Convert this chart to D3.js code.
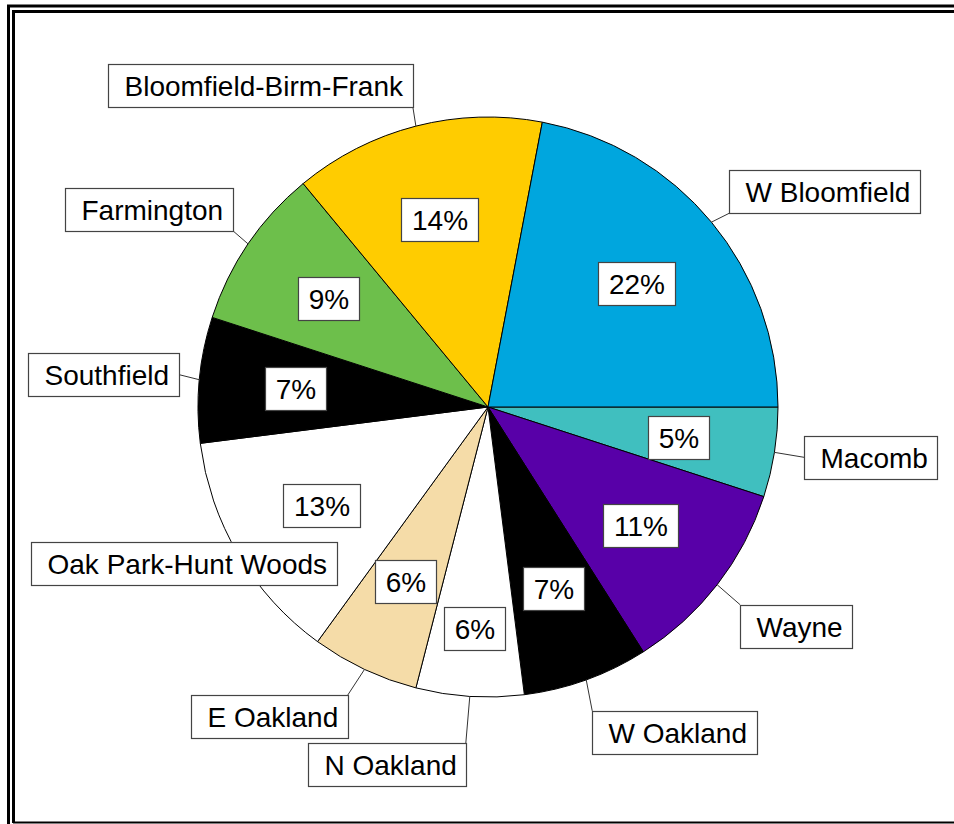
<!DOCTYPE html>
<html>
<head>
<meta charset="utf-8">
<script src="https://cdn.jsdelivr.net/npm/d3@7"></script>
<style>
  html, body { margin: 0; padding: 0; background: #fff; overflow: hidden; }
  svg { display: block; }
  text { font-family: "Liberation Sans", Arial, sans-serif; font-size: 28px; fill: #000; }
</style>
</head>
<body>
<div id="chart"></div>
<script>
// slices in drawing order, clockwise from 3 o'clock
const categories = ["Macomb", "Wayne", "W Oakland", "N Oakland", "E Oakland",
  "Oak Park-Hunt Woods", "Southfield", "Farmington", "Bloomfield-Birm-Frank", "W Bloomfield"];
const shares = [5, 11, 7, 6, 6, 13, 7, 9, 14, 22];
const pctLabels = ["5%", "11%", "7%", "6%", "6%", "13%", "7%", "9%", "14%", "22%"];
const sliceColors = ["#40BFBF", "#5800A8", "#000000", "#FFFFFF", "#F5DCA8",
  "#FFFFFF", "#000000", "#6DBF4B", "#FFCC00", "#00A6DE"];

// where each name box sits relative to its slice's edge point (anchor = box point the leader hits)
const nameLayout = [
  {anchor: "l", dx: 30, dy: 5},
  {anchor: "tl", dx: 23, dy: 20},
  {anchor: "tl", dx: 6, dy: 31},
  {anchor: "tr", dx: -4, dy: 47},
  {anchor: "tr", dx: -17, dy: 26},
  {anchor: "c", dx: -54, dy: 9},
  {anchor: "r", dx: -20, dy: -5},
  {anchor: "br", dx: -15, dy: -13},
  {anchor: "br", dx: -3, dy: -19},
  {anchor: "bl", dx: 18, dy: -9}
];
// percent boxes sit on 2/3 of the radius, N Oakland pushed out a bit
const pctRadiusShift = [0, 0, 0, 29, 0, 0, 0, 0, 0, 0];

const width = 954, height = 824;
const cx = 488, cy = 407, R = 290;
const boxH = 43;

const svg = d3.select("#chart").append("svg")
  .attr("width", width).attr("height", height);

// double frame, cut off at right edge
const frame = svg.append("g").attr("stroke", "#000");
frame.append("line").attr("x1", 8.5).attr("x2", 8.5).attr("y1", 5).attr("y2", height).attr("stroke-width", 3);
frame.append("line").attr("x1", 7).attr("x2", width).attr("y1", 6).attr("y2", 6).attr("stroke-width", 3);
frame.append("line").attr("x1", 13.5).attr("x2", 13.5).attr("y1", 10).attr("y2", 823).attr("stroke-width", 3);
frame.append("line").attr("x1", 12).attr("x2", width).attr("y1", 11.5).attr("y2", 11.5).attr("stroke-width", 3);
frame.append("line").attr("x1", 13).attr("x2", width).attr("y1", 822.5).attr("y2", 822.5).attr("stroke-width", 2);

const data = categories.map((c, i) => ({name: c, value: shares[i], pct: pctLabels[i], color: sliceColors[i], i}));

const pie = d3.pie().value(d => d.value).sort(null)
  .startAngle(Math.PI / 2).endAngle(Math.PI / 2 + 2 * Math.PI);
const arcs = pie(data);
const arc = d3.arc().innerRadius(0).outerRadius(R);

const g = svg.append("g").attr("transform", `translate(${cx},${cy})`);

g.selectAll(".slice").data(arcs).enter().append("path")
  .attr("class", "slice")
  .attr("d", arc)
  .attr("fill", d => d.data.color)
  .attr("stroke", "#000").attr("stroke-width", 1);

function edgePoint(d, r) {
  const a = (d.startAngle + d.endAngle) / 2;
  return [Math.sin(a) * r, -Math.cos(a) * r];
}

// name labels with leaders
const names = g.append("g");
arcs.forEach(d => {
  const lay = nameLayout[d.data.i];
  const [ex, ey] = edgePoint(d, R);
  const ax = ex + lay.dx, ay = ey + lay.dy;

  names.append("line").attr("x1", ex).attr("y1", ey).attr("x2", ax).attr("y2", ay)
    .attr("stroke", "#333").attr("stroke-width", 1);

  const grp = names.append("g");
  const rect = grp.append("rect").attr("fill", "#fff").attr("stroke", "#444").attr("stroke-width", 1.2);
  const txt = grp.append("text").text(d.data.name);
  const tw = txt.node().getComputedTextLength();
  const bw = Math.round(tw + 26);
  let bx, by;
  if (lay.anchor === "l") { bx = ax; by = ay - boxH / 2; }
  else if (lay.anchor === "r") { bx = ax - bw; by = ay - boxH / 2; }
  else if (lay.anchor === "tl") { bx = ax; by = ay; }
  else if (lay.anchor === "tr") { bx = ax - bw; by = ay; }
  else if (lay.anchor === "bl") { bx = ax; by = ay - boxH; }
  else if (lay.anchor === "br") { bx = ax - bw; by = ay - boxH; }
  else { bx = ax - bw / 2; by = ay - boxH / 2; }
  bx = Math.round(bx) + 0.5; by = Math.round(by) + 0.5;
  rect.attr("x", bx).attr("y", by).attr("width", bw).attr("height", boxH);
  txt.attr("x", bx + 16).attr("y", by + boxH / 2 + 10);
});

// percent boxes
const pcts = g.append("g");
arcs.forEach(d => {
  const [px, py] = edgePoint(d, R * 2 / 3 + pctRadiusShift[d.data.i]);
  const grp = pcts.append("g");
  const rect = grp.append("rect").attr("fill", "#fff").attr("stroke", "#444").attr("stroke-width", 1.2);
  const txt = grp.append("text").attr("text-anchor", "middle").text(d.data.pct);
  const tw = txt.node().getComputedTextLength();
  const bw = Math.round(tw + 21);
  const bx = Math.round(px - bw / 2) + 0.5, by = Math.round(py - boxH / 2) + 0.5;
  rect.attr("x", bx).attr("y", by).attr("width", bw).attr("height", boxH);
  txt.attr("x", bx + bw / 2).attr("y", by + boxH / 2 + 10);
});
</script>
</body>
</html>
